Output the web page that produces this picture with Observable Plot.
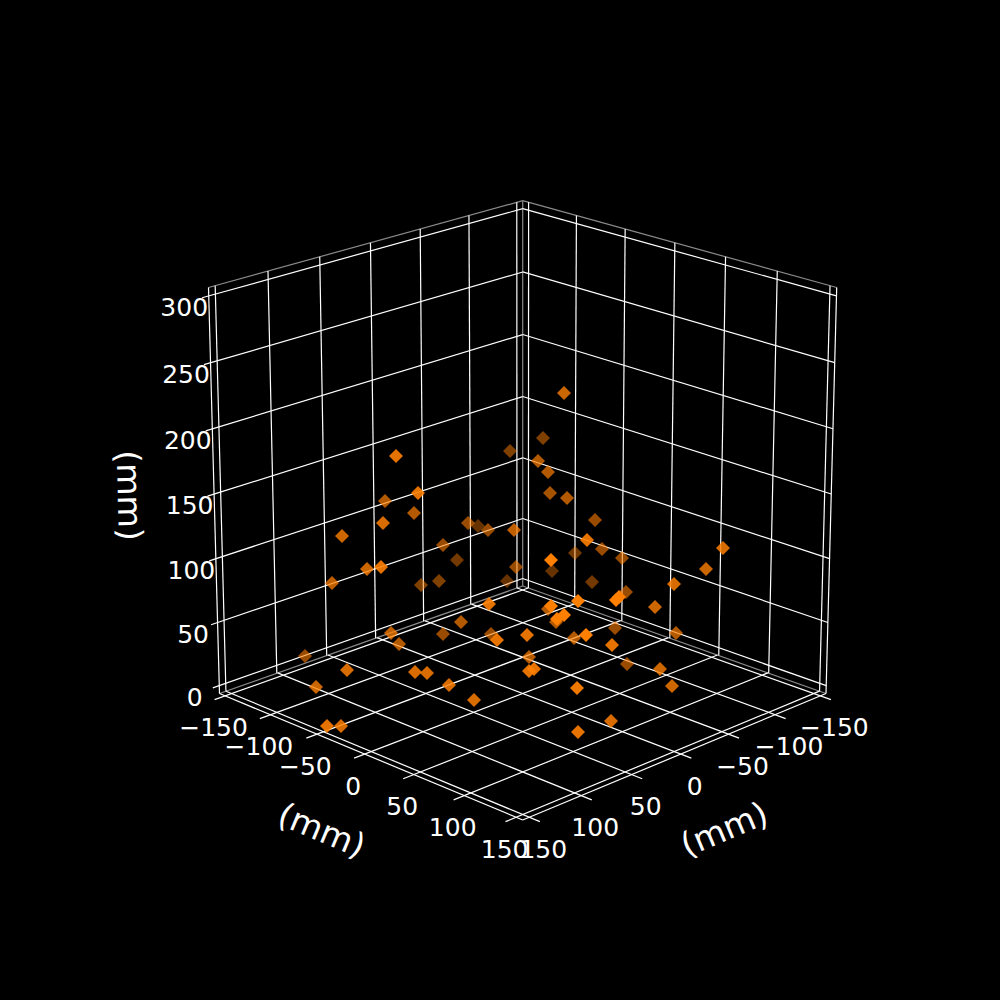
<!DOCTYPE html>
<html>
<head>
<meta charset="utf-8">
<style>html,body{margin:0;padding:0;background:#000;overflow:hidden}</style>
<script src="https://cdn.jsdelivr.net/npm/d3@7"></script>
<script src="https://cdn.jsdelivr.net/npm/@observablehq/plot@0.6"></script>
</head>
<body>
<div id="chart"></div>
<script>
// axis ticks (mm)
const xTicks = [-150, -100, -50, 0, 50, 100, 150];
const yTicks = [-150, -100, -50, 0, 50, 100, 150];
const zTicks = [0, 50, 100, 150, 200, 250, 300];
const axisLabel = "(mm)";

// scatter readings taken on the picture plane of the view
const pointU = [564,543,510,538,548,396,418,385,550,567,414,383,595,468,478,488,514,342,443,587,723,602,575,457,551,622,552,516,381,367,706,332,421,439,507,592,674,626,619,616,489,578,655,551,548,564,557,556,461,391,615,676,443,491,497,527,574,586,399,612,305,529,627,660,347,415,427,529,534,449,316,672,577,474,327,341,611,578];
const pointV = [393,438,451,461,472,456,493,501,493,498,513,523,520,523,526,530,530,536,545,540,548,549,553,560,560,558,571,567,567,569,569,583,585,581,581,582,584,592,597,600,604,601,607,606,609,615,619,622,622,633,628,633,634,634,640,635,638,635,644,645,656,657,664,669,670,672,673,671,669,685,687,686,688,700,726,726,721,732];
const pointShade = [.8,.5,.5,.7,.7,.9,.9,.7,.65,.7,.7,.85,.6,.6,.4,.6,.75,.8,.6,.9,.85,.6,.45,.45,1,.6,.4,.6,.9,.8,.8,.75,.5,.5,.4,.45,.85,.6,1,1,.9,1,.8,1,.7,1,1,.7,.7,.75,.6,.7,.6,.6,.9,.9,.7,1,.7,.9,.6,.7,.6,.8,.85,.85,.85,.9,.9,.85,.8,.8,.95,.85,.9,.85,.85,.9];

// view of the 3D box
const limLow = -156.25, limHigh = 156.25, zLow = -6.25, zHigh = 306.25;
const corner = {
  B: [522.7, 586], L: [219.5, 693.5], R: [826, 693.5], F: [522.7, 820],
  BT: [522.7, 200.7], LT: [208.5, 287.5], RT: [836.7, 287.5]
};

// perspective map from the unit square to a quadrilateral
function quad(p0, p1, p2, p3) {
  const dx1 = p1[0]-p2[0], dx2 = p3[0]-p2[0], sx = p0[0]-p1[0]+p2[0]-p3[0];
  const dy1 = p1[1]-p2[1], dy2 = p3[1]-p2[1], sy = p0[1]-p1[1]+p2[1]-p3[1];
  const den = dx1*dy2-dx2*dy1;
  const g = (sx*dy2-dx2*sy)/den, h = (dx1*sy-sx*dy1)/den;
  const a = p1[0]-p0[0]+g*p1[0], b = p3[0]-p0[0]+h*p3[0], c = p0[0];
  const d = p1[1]-p0[1]+g*p1[1], e = p3[1]-p0[1]+h*p3[1], f = p0[1];
  return (u, v) => { const w = g*u+h*v+1; return [(a*u+b*v+c)/w, (d*u+e*v+f)/w]; };
}
const nx = t => (t-limLow)/(limHigh-limLow);
const nz = t => (t-zLow)/(zHigh-zLow);
const floorQ = quad(corner.B, corner.R, corner.F, corner.L);   // u: y, v: x
const wallY  = quad(corner.B, corner.L, corner.LT, corner.BT); // u: x, v: z
const wallX  = quad(corner.B, corner.R, corner.RT, corner.BT); // u: y, v: z

const tickOut = 0.032, zTickOut = 0.02;
const seg = (a, b) => ({x1:a[0], y1:a[1], x2:b[0], y2:b[1]});

const grid = [];
for (const t of xTicks) {
  grid.push(seg(floorQ(0, nx(t)), floorQ(1+tickOut, nx(t))));
  grid.push(seg(wallY(nx(t), 0), wallY(nx(t), 1)));
}
for (const t of yTicks) {
  grid.push(seg(floorQ(nx(t), 0), floorQ(nx(t), 1+tickOut)));
  grid.push(seg(wallX(nx(t), 0), wallX(nx(t), 1)));
}
for (const t of zTicks) {
  grid.push(seg(wallY(1+zTickOut, nz(t)), wallY(0, nz(t))));
  grid.push(seg(wallX(0, nz(t)), wallX(1, nz(t))));
}
const edgesBack = [
  seg(corner.LT, corner.BT), seg(corner.BT, corner.RT), seg(corner.BT, corner.B),
  seg(corner.L, corner.B), seg(corner.R, corner.B)
];
const edgesFront = [
  seg(corner.L, corner.F), seg(corner.F, corner.R),
  seg(corner.L, corner.LT), seg(corner.R, corner.RT)
];

const fmt = t => String(t).replace("-", "\u2212");
const tickText = [];
for (const t of yTicks) { const p = floorQ(nx(t), 1); tickText.push({x:p[0]-11.5, y:p[1]+32.5, s:fmt(t)}); }
for (const t of xTicks) { const p = floorQ(1, nx(t)); tickText.push({x:p[0]+14, y:p[1]+32.5, s:fmt(t)}); }
for (const t of zTicks) { const p = wallY(1, nz(t)); tickText.push({x:p[0]-24.5, y:p[1]+12.3, s:fmt(t)}); }

const points = pointU.map((u, i) => ({u, v: pointV[i], shade: pointShade[i]}));
const font = "DejaVu Sans";

const chart = Plot.plot({
  width: 1000, height: 1000, margin: 0,
  x: {domain: [0, 1000], range: [-0.5, 999.5], axis: null},
  y: {domain: [0, 1000], range: [-0.5, 999.5], axis: null},
  opacity: {domain: [0, 1], range: [0, 1]},
  style: {background: "#000"},
  marks: [
    Plot.link(edgesBack, {x1:"x1", y1:"y1", x2:"x2", y2:"y2", stroke:"#8a8a8a", strokeWidth:1.2}),
    Plot.link(grid, {x1:"x1", y1:"y1", x2:"x2", y2:"y2", stroke:"#fff", strokeWidth:1.2}),
    Plot.link(edgesFront, {x1:"x1", y1:"y1", x2:"x2", y2:"y2", stroke:"#fff", strokeWidth:1.2}),
    Plot.dot(points, {x:"u", y:"v", symbol:"diamond2", r:6.3, fill:"#ff7f00", stroke:"none", fillOpacity:"shade"}),
    Plot.text(tickText, {x:"x", y:"y", text:"s", fill:"#fff", fontSize:25, fontFamily:font, textAnchor:"middle", lineAnchor:"middle"}),
    Plot.text([axisLabel], {x:()=>321.5, y:()=>831, text:d=>d, fill:"#fff", fontSize:33.3, fontFamily:font, rotate:22.7, textAnchor:"middle", lineAnchor:"middle"}),
    Plot.text([axisLabel], {x:()=>724.5, y:()=>830, text:d=>d, fill:"#fff", fontSize:33.3, fontFamily:font, rotate:-22.7, textAnchor:"middle", lineAnchor:"middle"}),
    Plot.text([axisLabel], {x:()=>128.5, y:()=>495.5, text:d=>d, fill:"#fff", fontSize:33.3, fontFamily:font, rotate:88.4, textAnchor:"middle", lineAnchor:"middle"})
  ]
});
document.getElementById("chart").appendChild(chart);
</script>
</body>
</html>
